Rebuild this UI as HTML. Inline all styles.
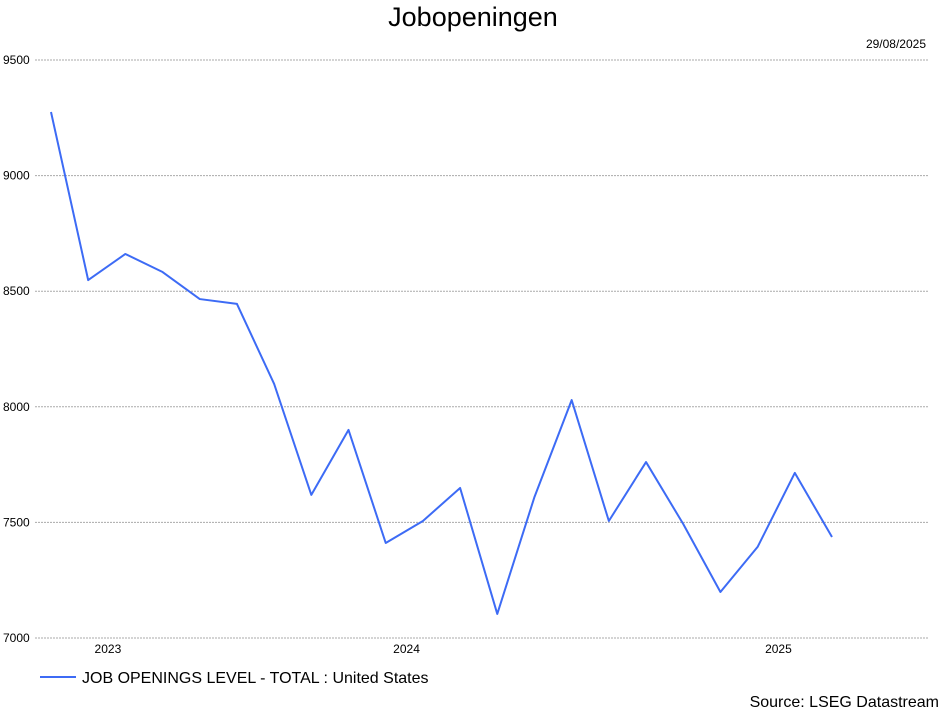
<!DOCTYPE html>
<html><head><meta charset="utf-8"><style>
body{margin:0;background:#fff;font-family:"Liberation Sans",sans-serif;}
svg{display:block}
</style></head><body>
<svg id="chart" width="942" height="711" xmlns="http://www.w3.org/2000/svg">
<text x="473" y="26" font-size="27" text-anchor="middle" fill="#000">Jobopeningen</text>
<text x="926" y="48" font-size="12" text-anchor="end" fill="#000">29/08/2025</text>
<g id="grid"></g><g id="yticks"></g><g id="xticks"></g><g id="series"></g>
<line x1="40" y1="677" x2="76" y2="677" stroke="#3d6bf5" stroke-width="2"/>
<text x="82" y="683" font-size="16" fill="#000">JOB OPENINGS LEVEL - TOTAL : United States</text>
<text x="939" y="707" font-size="16" text-anchor="end" fill="#000">Source: LSEG Datastream</text>
</svg>
<script>
const values=[9275,8548,8661,8583,8466,8445,8099,7619,7900,7411,7506,7649,7104,7610,8029,7506,7761,7493,7199,7394,7714,7437];
const yTicks=[7000,7500,8000,8500,9000,9500];
const yearLabels=["2023","2024","2025"];
const yearIdx=[1.53,9.56,19.56];
const NS="http://www.w3.org/2000/svg";
const x=i=>51+i*37.19;
const y=v=>638-(v-7000)*0.2312;
function mk(t,a,p){const e=document.createElementNS(NS,t);for(const k in a)e.setAttribute(k,a[k]);p.appendChild(e);return e;}
const grid=document.getElementById('grid'),yt=document.getElementById('yticks'),xt=document.getElementById('xticks'),se=document.getElementById('series');
yTicks.forEach(v=>{
const l=mk('line',{x1:35,x2:928,y1:y(v),y2:y(v),stroke:'#aaa','stroke-width':1,'stroke-dasharray':'2,1'},grid);


const t=mk('text',{x:3,y:y(v)+4,'font-size':12,fill:'#000'},yt);t.textContent=v;


});
yearLabels.forEach((s,i)=>{
const t=mk('text',{x:x(yearIdx[i]),y:653,'font-size':12,'text-anchor':'middle',fill:'#000'},xt);t.textContent=s;


});
const p=mk('polyline',{points:values.map((v,i)=>x(i)+','+y(v)).join(' '),fill:'none',stroke:'#3d6bf5','stroke-width':2,'stroke-linejoin':'round'},se);


</script>
</body></html>
